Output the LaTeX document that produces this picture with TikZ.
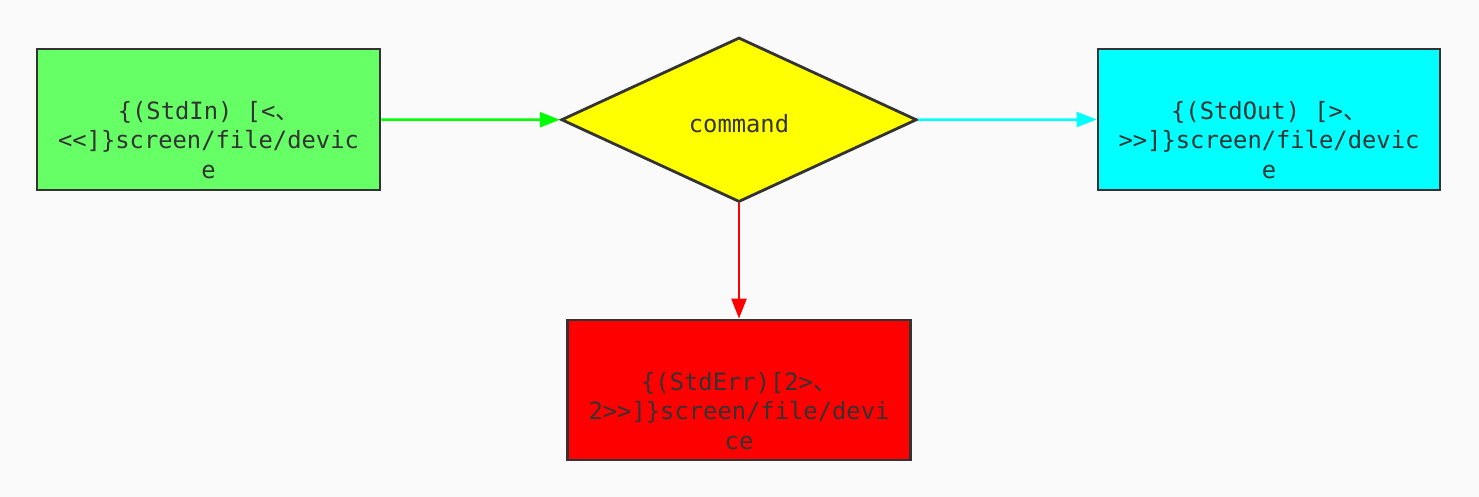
\documentclass[tikz,border=0pt]{standalone}
\usepackage{fontspec}
\usetikzlibrary{shapes.geometric,arrows.meta}
\newfontfamily\monofont{DejaVu Sans Mono}
\newfontfamily\cjk{Noto Sans CJK SC}
\definecolor{bgc}{HTML}{FAFAFA}
\definecolor{ink}{HTML}{333333}
\definecolor{ingreen}{HTML}{66FF66}
\definecolor{outcyan}{HTML}{00FFFF}
\definecolor{errred}{HTML}{FF0000}
\definecolor{cmdyellow}{HTML}{FFFF00}
\tikzset{
  box/.style={draw=ink, line width=2.8pt, rectangle, inner sep=0pt},
  cmdshape/.style={draw=ink, line width=2.8pt, diamond, inner sep=0pt, fill=cmdyellow},
  txt/.style={text=ink, align=center, inner sep=0pt, font=\monofont\fontsize{23.8}{29.5}\selectfont},
  conn/.style={line width=2.5pt, -{Triangle[length=20pt,width=15pt]}}
}
\begin{document}
\begin{tikzpicture}[x=1pt,y=-1pt]
\fill[bgc] (0,0) rectangle (1479,497);
\useasboundingbox (0,0) rectangle (1479,497);
\node[box, fill=ingreen, minimum width=343pt, minimum height=141pt] (in) at (208.5,119.5) {};
\node[box, fill=outcyan, minimum width=342pt, minimum height=141pt] (out) at (1269,119.5) {};
\node[box, fill=errred, minimum width=343pt, minimum height=140pt] (err) at (739,390) {};
\node[cmdshape, minimum width=355.5pt, minimum height=164.5pt] (cmd) at (739,119.75) {};
\node[txt] (in-t) at (208.5,140) {\{(StdIn) [<{\cjk 、}\\<<]\}screen/file/devic\\e};
\node[txt] (out-t) at (1269,140) {\{(StdOut) [>{\cjk 、}\\>>]\}screen/file/devic\\e};
\node[txt] (err-t) at (739,411) {\{(StdErr)[2>{\cjk 、}\\2>>]\}screen/file/devi\\ce};
\node[txt] (cmd-t) at (739,124) {command};
\draw[conn, draw=green, fill=green] (in.east) -- (cmd.west);
\draw[conn, draw=outcyan, fill=outcyan] (cmd.east) -- (out.west);
\draw[conn, draw=errred, fill=errred] (cmd.south) -- (err.north);
\end{tikzpicture}
\end{document}
